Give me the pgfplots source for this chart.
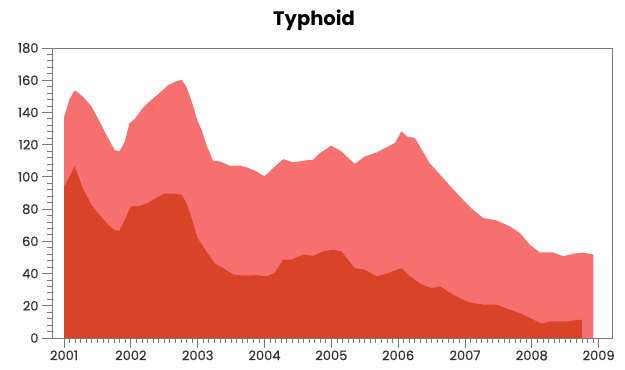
\documentclass[border=0pt]{standalone}
\usepackage{pgfplots}
\pgfplotsset{compat=1.18}
\usepackage{fontspec}
\setmainfont{Poppins}
\newfontfamily\tickfont[FakeBold=0.6]{Poppins}
\definecolor{lightred}{RGB}{247,112,112}
\definecolor{darkred}{RGB}{217,68,40}
\definecolor{axgray}{RGB}{120,120,120}
\begin{document}
\begin{tikzpicture}
\begin{axis}[
  name=ax,
  scale only axis,
  width=560pt, height=290pt,
  xmin=2000.82, xmax=2009.2,
  ymin=0, ymax=180,
  axis line style={axgray, line width=0.8pt},
  xtick={2001,2002,2003,2004,2005,2006,2007,2008,2009},
  xticklabels={2001,2002,2003,2004,2005,2006,2007,2008,2009},
  ytick={0,20,40,60,80,100,120,140,160,180},
  minor x tick num=11,
  minor y tick num=4,
  xtick pos=lower, ytick pos=left,
  tick align=outside,
  major tick length=10pt, minor tick length=5pt,
  xtick style={axgray, line width=0.8pt},
  ytick style={axgray, line width=0.8pt},
  /pgf/number format/assume math mode=true,
  /pgf/number format/1000 sep={},
  tick label style={font=\tickfont\fontsize{13}{15}\selectfont, text=black!80},
  yticklabel style={xshift=0pt},
  xticklabel style={yshift=1pt},
  axis on top,
]
\addplot[fill=lightred, draw=none] coordinates {
(2001.00,137) (2001.08,148) (2001.16,153.7) (2001.28,150) (2001.41,143.8)
(2001.53,134.5) (2001.66,124) (2001.76,116.5) (2001.83,115.8) (2001.91,122)
(2001.98,133.4) (2002.06,136) (2002.18,142.8) (2002.31,148) (2002.43,152)
(2002.56,157) (2002.68,159.3) (2002.76,160.3) (2002.83,156) (2002.91,146.9)
(2003.00,134.5) (2003.06,129) (2003.13,120) (2003.23,110) (2003.33,109.6)
(2003.48,107) (2003.63,107) (2003.73,106) (2003.88,103.4) (2004.00,100.3)
(2004.13,105.5) (2004.28,111) (2004.43,109) (2004.58,110) (2004.73,110.7)
(2004.83,114.8) (2005.00,119.4) (2005.15,115.8) (2005.35,108) (2005.50,112.7)
(2005.68,115.2) (2005.85,118.9) (2005.95,121) (2006.05,128.3) (2006.13,125.1)
(2006.25,124.1) (2006.47,108.6) (2006.65,100.3) (2006.82,92.5) (2006.97,85.8)
(2007.12,79.6) (2007.27,74.5) (2007.47,73) (2007.67,69.3) (2007.82,65.2)
(2007.97,57.9) (2008.12,53.1) (2008.32,53.1) (2008.47,50.7) (2008.62,52.3)
(2008.77,53) (2008.92,51.8)
} \closedcycle;
\addplot[fill=darkred, draw=none] coordinates {
(2001.00,94.1) (2001.08,100) (2001.16,106.5) (2001.28,93) (2001.41,82.7)
(2001.53,76.5) (2001.66,70.3) (2001.76,66.8) (2001.83,66.8) (2001.91,73.4)
(2002.00,81.7) (2002.13,82) (2002.25,83.8) (2002.38,86.9) (2002.50,89.6)
(2002.63,89.6) (2002.76,89) (2002.83,83.8) (2002.91,74.5) (2003.00,62)
(2003.13,53.8) (2003.25,46.5) (2003.38,43.4) (2003.53,39.3) (2003.68,38.8)
(2003.88,39) (2004.03,38.2) (2004.15,40.3) (2004.28,48.6) (2004.40,48.6)
(2004.58,51.7) (2004.73,51) (2004.88,53.8) (2005.03,54.8) (2005.15,53.8)
(2005.35,43.4) (2005.50,42.4) (2005.68,38.2) (2005.85,40.3) (2006.05,43.4)
(2006.18,38.2) (2006.35,33.1) (2006.50,31) (2006.63,32) (2006.82,26.9)
(2006.97,23.8) (2007.07,22.1) (2007.27,20.7) (2007.47,20.7) (2007.67,17.6)
(2007.82,15.5) (2008.02,11.4) (2008.15,8.9) (2008.27,10.3) (2008.52,10.3)
(2008.75,11.4)
} \closedcycle;
\end{axis}
\node[anchor=base, font=\fontsize{19.5}{22}\selectfont\bfseries] at ([shift={(262pt,22pt)}]ax.north west) {Typhoid};
\pgfresetboundingbox
\path (ax.south west) ++(-52pt,-32pt) rectangle ++(625pt,370pt);
\end{tikzpicture}
\end{document}
